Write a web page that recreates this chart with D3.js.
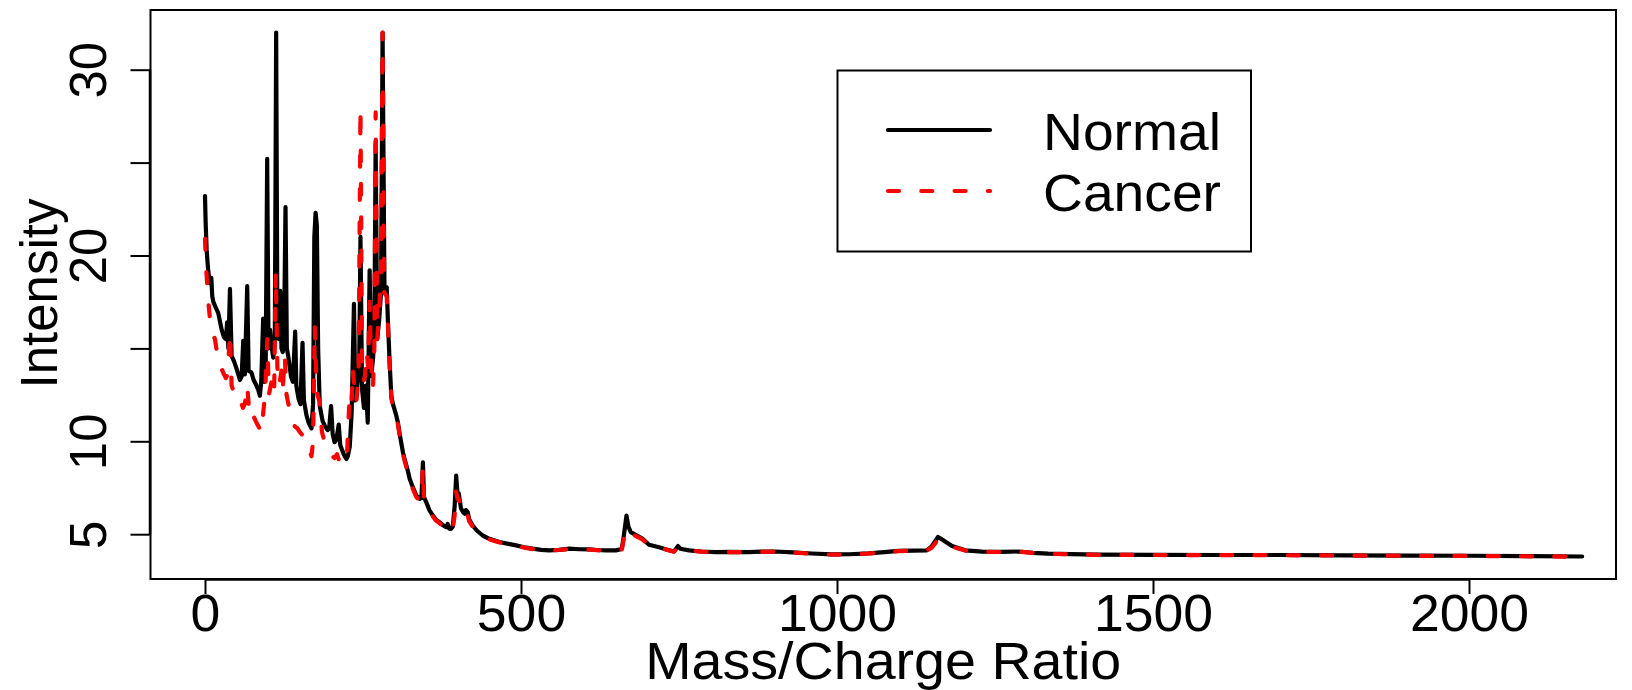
<!DOCTYPE html>
<html><head><meta charset="utf-8">
<script src="https://cdn.jsdelivr.net/npm/d3@7"></script>
<style>
body{margin:0;background:#fff}
text{font-family:"Liberation Sans",Arial,Helvetica,sans-serif;fill:#000}
</style>
</head><body>
<svg id="c" width="1632" height="690"></svg>
<script>
// ---- data ----
const normalMZ = [0,1,2.6,5,7.9,10,11.5,13.2,17,21,24,26.4,30,33.2,35,37,39.5,42.1,46,50,55.3,58,60.5,63,66.8,69,73.5,77,81.4,84,86.8,89,92,94,96,98.4,100.5,103,105,108,110.5,112.6,114.5,117,119,121,123,125,127.4,129.5,131.6,136,139,142.7,144.5,148,151,154.3,156.5,160.6,164,168.5,171,173,175,177,179,181.6,186,190,194,196.5,199.5,202,205,208,211.6,214,218.4,221,223.7,226,229,232,235.7,238,241,244,246,248.5,251.5,254.5,257.5,260.5,263,266,268,270,272.5,275.5,278.5,281,284,287.5,289.5,292.2,294.8,297.4,302.7,305.3,308,313.2,317,321,323.7,328,334.3,340,342.5,344.8,346.5,350,355,360.6,365,371,376,381.6,384,386.5,389.5,392,395,397.4,399.5,401.5,405,408,411,413,415.7,418,423.6,430,439.4,450,465.8,480,492.2,505,518.5,532,544.9,560,576.5,592,608,620,635,650,659.5,663,666.9,670,673.7,682,692,702.6,718.5,730,742,745,748.5,752,765.8,785,808,830,860,880,902,930,960,992,1020,1050,1075,1097,1120,1142,1150,1159.8,1168,1182,1203,1230,1260,1287,1310,1334,1370,1413,1500,1600,1700,1800,1900,2000,2100,2179];
const normalIntensity = [23.2,21.8,20.3,19.2,18.5,18.8,17.8,17.5,17.2,16.9,16.4,16.0,15.6,15.5,16.4,15.0,18.2,14.6,14.3,13.9,13.3,13.5,15.4,13.6,18.35,13.8,13.7,13.3,13.0,12.8,12.45,13.2,16.6,13.2,14.0,25.2,15.0,16.0,15.2,14.5,15.5,32.0,16.2,15.5,18.1,15.0,14.8,15.5,22.6,15.0,14.6,13.5,13.2,15.9,13.0,12.3,12.0,15.3,12.2,11.4,11.0,10.7,12.0,21.0,22.3,21.6,15.0,11.9,11.1,10.8,10.6,10.7,11.9,10.4,9.95,10.1,10.9,9.8,9.4,9.2,9.05,9.2,9.7,11.5,17.4,12.2,13.0,14.0,21.0,12.8,11.8,13.0,11.0,19.2,13.5,14.5,16.0,26.0,15.5,16.5,18.0,32.0,18.0,18.3,16.4,14.2,12.45,12.0,11.38,11.0,10.4,9.4,8.9,8.4,8.0,7.6,7.08,6.9,7.0,8.87,7.0,6.73,6.3,6.0,5.8,5.65,5.5,5.38,5.55,5.3,5.29,5.4,6.5,8.15,7.2,7.2,6.4,6.2,6.1,6.3,6.19,5.8,5.47,5.2,4.93,4.75,4.58,4.48,4.4,4.3,4.22,4.16,4.13,4.16,4.22,4.19,4.18,4.15,4.13,4.13,4.2,5.0,6.0,5.4,5.11,4.95,4.76,4.43,4.3,4.18,4.07,4.2,4.36,4.22,4.13,4.07,4.04,4.05,4.04,4.06,4.07,4.02,3.96,3.91,3.92,3.97,4.04,4.1,4.12,4.13,4.35,4.85,4.68,4.36,4.13,4.06,4.05,4.07,4.0,3.95,3.93,3.9,3.89,3.88,3.88,3.86,3.85,3.84,3.82,3.80];

const cancerMZ = [0,1,2.6,5.3,9,12,15.8,18,21,24,26.4,30,33,36,39.5,42.1,46,50,55.3,58,60,63,66.8,70,73,76.3,80,83,86.8,89,92,95,98.7,101,104,107,109.5,112,114.5,116.5,118.4,121,123,126.3,129,132,136,139,142.1,146,150,155,160.6,164,168.5,171,173.7,176,178,181.6,185,189.5,195,200,205,209,213,217,221,225,229,232,234,237,239.5,243,246,248.5,251,253,256,258,260.5,263,265.7,268,270,272.5,275.5,278.5,281,283.5,287.5,289.5,292.2,294.8,297.4,302.7,305.3,308,313.2,317,321,323.7,328,334.3,340,342.5,344.8,346.5,350,355,360.6,365,371,376,381.6,384,386.5,389.5,392,395,397.4,399.5,401.5,405,408,411,413,415.7,418,423.6,430,439.4,450,465.8,480,492.2,505,518.5,532,544.9,560,576.5,592,608,620,635,650,659.5,663,666.9,670,673.7,682,692,702.6,718.5,730,742,745,748.5,752,765.8,785,808,830,860,880,902,930,960,992,1020,1050,1075,1097,1120,1142,1150,1159.8,1168,1182,1203,1230,1260,1287,1310,1334,1370,1413,1500,1600,1700,1800,1900,2000,2100,2179];
const cancerIntensity = [20.9,19.9,18.9,17.5,16.2,15.8,15.5,15.0,14.6,14.2,13.9,13.6,13.4,13.6,15.85,13.0,12.6,12.3,11.9,12.0,11.8,12.0,13.0,11.6,11.8,11.4,11.1,10.9,10.66,10.5,11.5,12.5,15.5,12.5,13.0,13.5,12.8,19.1,14.0,13.0,13.2,13.8,12.8,14.6,12.5,12.0,11.5,11.2,10.8,10.7,10.5,10.3,9.95,9.6,9.2,10.0,16.2,13.5,12.5,12.1,10.5,9.95,9.5,9.23,9.1,9.3,8.87,9.0,8.87,9.5,12.6,12.2,13.9,12.5,12.1,13.5,27.9,14.0,13.2,13.5,14.8,14.0,17.5,14.0,12.8,15.0,27.7,15.5,17.0,19.0,32.0,18.0,17.8,16.2,14.0,12.3,11.9,11.3,10.9,10.3,9.3,8.8,8.3,7.9,7.5,7.0,6.8,6.9,8.6,6.9,6.65,6.25,5.95,5.75,5.6,5.45,5.33,5.45,5.25,5.2,5.3,6.0,7.3,6.9,6.9,6.2,6.0,6.0,6.1,6.0,5.7,5.4,5.15,4.9,4.72,4.56,4.46,4.38,4.28,4.2,4.15,4.12,4.15,4.2,4.18,4.17,4.14,4.12,4.12,4.18,4.8,5.3,5.2,5.0,4.9,4.72,4.42,4.28,4.17,4.06,4.15,4.28,4.2,4.12,4.06,4.03,4.04,4.03,4.05,4.06,4.01,3.95,3.9,3.91,3.96,4.03,4.09,4.11,4.12,4.28,4.7,4.6,4.33,4.12,4.05,4.04,4.06,3.99,3.94,3.92,3.89,3.88,3.87,3.87,3.85,3.84,3.83,3.81,3.79];

const xTicks = [0, 500, 1000, 1500, 2000];
const xTickLabels = ["0", "500", "1000", "1500", "2000"];
const yTicks = [5, 10, 15, 20, 25, 30];
const yTickLabels = ["5", "10", "", "20", "", "30"];
const seriesNames = ["Normal", "Cancer"];
const xTitle = "Mass/Charge Ratio";
const yTitle = "Intensity";

// ---- layout ----
const box = {l: 150.5, t: 10, r: 1616, b: 579};
const FS = 51;
const svg = d3.select("#c");

const x = d3.scaleLinear().domain([0, 2000]).range([205, 1469]);
const y = d3.scaleLinear().domain([5, 30]).range([534.2, 69.7]);

svg.append("clipPath").attr("id","clip").append("rect")
  .attr("x", box.l).attr("y", box.t).attr("width", box.r-box.l).attr("height", box.b-box.t);

const line = d3.line().x(d => x(d[0])).y(d => y(d[1]));
const normal = normalMZ.map((m,i) => [m, normalIntensity[i]]);
const cancer = cancerMZ.map((m,i) => [m, cancerIntensity[i]]);

const LW = 4.2;
const DASH = "11,22.3";
const plot = svg.append("g").attr("clip-path","url(#clip)");
plot.append("path").datum(normal).attr("d", line)
  .attr("fill","none").attr("stroke","#000").attr("stroke-width",LW)
  .attr("stroke-linejoin","round").attr("stroke-linecap","round");
plot.append("path").datum(cancer).attr("d", line)
  .attr("fill","none").attr("stroke","#ff0000").attr("stroke-width",LW)
  .attr("stroke-dasharray",DASH)
  .attr("stroke-linejoin","round").attr("stroke-linecap","round");

// box
svg.append("rect").attr("x", box.l).attr("y", box.t)
  .attr("width", box.r-box.l).attr("height", box.b-box.t)
  .attr("fill","none").attr("stroke","#000").attr("stroke-width",2);

// x axis
const xAxis = svg.append("g").attr("transform", `translate(0,${box.b})`)
  .call(d3.axisBottom(x).tickValues(xTicks).tickSize(15).tickSizeOuter(0)
    .tickFormat((d,i) => xTickLabels[i]));
xAxis.select(".domain").attr("d", `M${x(xTicks[0])},0.5H${x(xTicks[xTicks.length-1])}`)
  .attr("stroke","#000").attr("stroke-width",2.5);
xAxis.selectAll(".tick line").attr("stroke","#000").attr("stroke-width",2);
xAxis.selectAll(".tick text").attr("y", 631 - box.b).attr("dy", 0)
  .attr("font-size", FS).attr("font-family", null).attr("fill","#000")
  .each(function(){ const w = this.getComputedTextLength(); this.setAttribute("textLength", w*1.05); this.setAttribute("lengthAdjust","spacingAndGlyphs"); });

// y axis
const yAxis = svg.append("g").attr("transform", `translate(${box.l},0)`)
  .call(d3.axisLeft(y).tickValues(yTicks).tickSize(20).tickSizeOuter(0)
    .tickFormat((d,i) => yTickLabels[i]));
yAxis.select(".domain").attr("d", `M-0.5,${y(yTicks[0])}V${y(yTicks[yTicks.length-1])}`)
  .attr("stroke","#000").attr("stroke-width",2.5);
yAxis.selectAll(".tick line").attr("stroke","#000").attr("stroke-width",2);
yAxis.selectAll(".tick text").attr("x", 0).attr("y", 0).attr("dy", 0)
  .attr("text-anchor","middle").attr("font-size", FS).attr("font-family", null).attr("fill","#000")
  .attr("transform", `translate(${106 - box.l},0) rotate(-90)`);

// titles
svg.append("text").attr("x", (box.l+box.r)/2).attr("y", 679)
  .attr("text-anchor","middle").attr("font-size", FS)
  .attr("textLength", 476).attr("lengthAdjust","spacingAndGlyphs").text(xTitle);
svg.append("text").attr("transform", `translate(57,293.5) rotate(-90)`)
  .attr("text-anchor","middle").attr("font-size", FS).text(yTitle);

// legend
const lg = svg.append("g");
lg.append("rect").attr("x", 837.5).attr("y", 70.5).attr("width", 413.5).attr("height", 181)
  .attr("fill","#fff").attr("stroke","#000").attr("stroke-width",2);
const legY = [130, 191];
const legStyle = [
  {stroke:"#000", dash:null},
  {stroke:"#ff0000", dash:DASH}
];
seriesNames.forEach((name, i) => {
  lg.append("line").attr("x1", 888).attr("x2", 990).attr("y1", legY[i]).attr("y2", legY[i])
    .attr("stroke", legStyle[i].stroke).attr("stroke-width", LW)
    .attr("stroke-dasharray", legStyle[i].dash).attr("stroke-linecap","round");
  lg.append("text").attr("x", 1043).attr("y", legY[i] + 20)
    .attr("font-size", FS).attr("textLength", 178).attr("lengthAdjust","spacingAndGlyphs")
    .text(name);
});
</script>
</body></html>
